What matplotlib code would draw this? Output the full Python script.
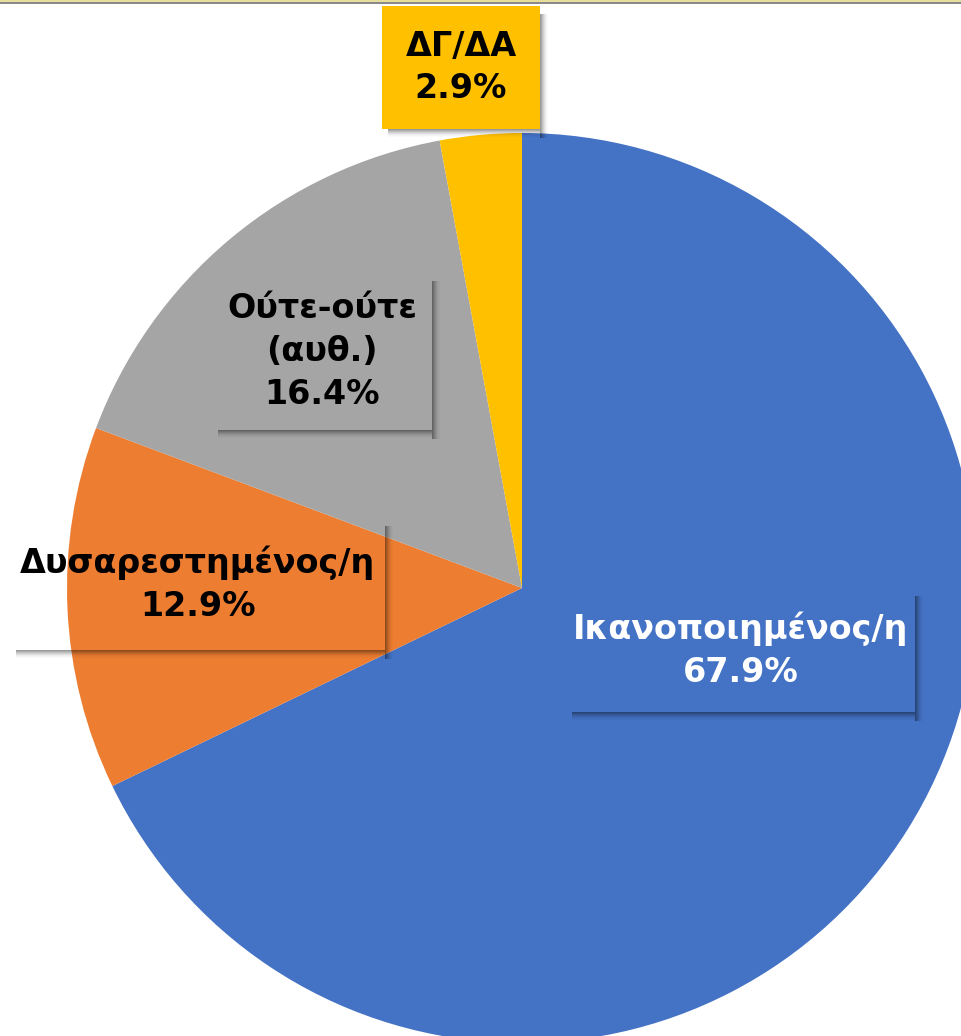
import numpy as np
import matplotlib.pyplot as plt
from matplotlib.patches import Rectangle

# dati del grafico
categorie = ['Ικανοποιημένος/η', 'Δυσαρεστημένος/η', 'Ούτε-ούτε\n(αυθ.)', 'ΔΓ/ΔΑ']
valori = [67.9, 12.9, 16.4, 2.9]
colori = ['#4472C4', '#ED7D31', '#A5A5A5', '#FFC000']

W, H = 961, 1036
fig = plt.figure(figsize=(W / 100, H / 100), dpi=100)
ax = fig.add_axes([0, 0, 1, 1])

# torta (centro e raggio in pixel)
cx, cy, r = 522, H - 588, 455
ax.pie(valori, colors=colori, startangle=90, counterclock=False,
       center=(cx, cy), radius=r, frame=True,
       wedgeprops=dict(linewidth=0))
ax.set_xlim(0, W)
ax.set_ylim(0, H)
ax.set_aspect('equal')
ax.axis('off')

# linea in alto
ax.add_patch(Rectangle((0, H - 4), W, 4, color='#8a8a8a', lw=0, zorder=5))
ax.add_patch(Rectangle((0, H - 1.5), W, 1.5, color='#e6dc9c', lw=0, zorder=6))

# riquadri delle etichette: (x0, y0_alto, x1, y1_basso, riempimento, colore testo)
riquadri = [
    (566, 588, 915, 712, '#4472C4', 'white'),
    (10, 518, 385, 650, 'none', 'black'),
    (212, 273, 432, 430, '#A5A5A5', 'black'),
    (382, 6, 540, 129, '#FFC000', 'black'),
]


def ombra(x0, y0, x1, y1):
    # ombra sfumata sotto e a destra
    alfa = [0.40, 0.32, 0.25, 0.18, 0.12, 0.07, 0.04, 0.02]
    for k, a in enumerate(alfa):
        ax.add_patch(Rectangle((x1 + k, H - y1 - 9), 1, y1 - y0 + 1,
                               color='black', alpha=a, lw=0, zorder=7))
        ax.add_patch(Rectangle((x0 + 6, H - y1 - k - 1), x1 - x0 - 6, 1,
                               color='black', alpha=a, lw=0, zorder=7))


for cat, v, (x0, y0, x1, y1, fc, tc) in zip(categorie, valori, riquadri):
    ombra(x0, y0, x1, y1)
    if fc != 'none':
        ax.add_patch(Rectangle((x0, H - y1), x1 - x0, y1 - y0, color=fc, lw=0, zorder=8))
    ax.text((x0 + x1) / 2, H - (y0 + y1) / 2, cat + '\n' + f'{v:.1f}%',
            ha='center', va='center', fontsize=24, fontweight='bold',
            color=tc, family='DejaVu Sans', linespacing=1.38, zorder=9)

fig.savefig('out.png', dpi=100)
